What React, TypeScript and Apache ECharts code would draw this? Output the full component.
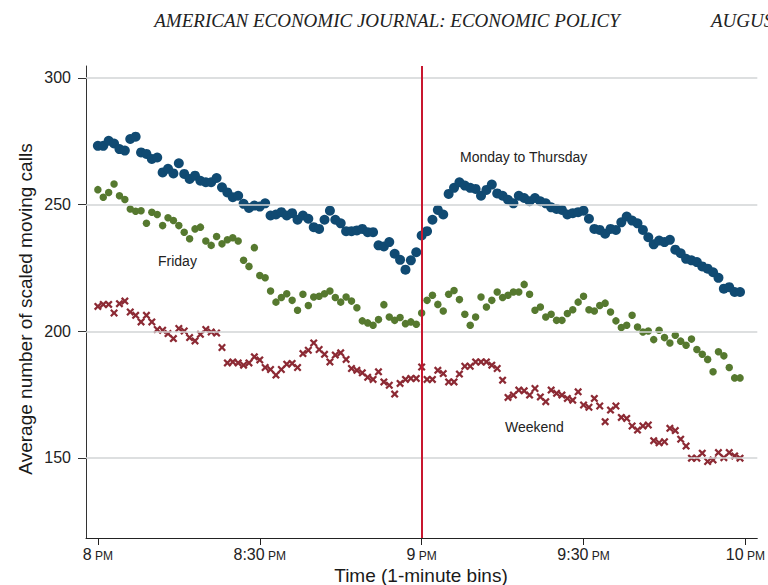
import React, { useEffect, useRef } from "react";
import * as echarts from "echarts";

// minute bins after 8 PM
const minutes: number[] = Array.from({ length: 120 }, (_, i) => i);

const mondayToThursday: number[] = [
  273.2, 273.2, 275.2, 274.1, 271.9, 271.3, 275.9, 276.8, 270.6, 270,
  268, 268.6, 262.7, 264.1, 262.3, 266.3, 262.1, 260.1, 261.4, 259.4,
  258.8, 258.8, 260.5, 256.8, 254.8, 252.9, 253.5, 250.3, 248.7, 249.6,
  249.2, 250.5, 245.7, 246.1, 247, 245.7, 246.6, 244, 245.7, 244.4,
  241.1, 240.4, 244, 247.6, 244, 242.6, 239.5, 239.5, 239.8, 240.4,
  239.1, 239.1, 233.9, 233.5, 235.2, 230.6, 228.2, 224.3, 228, 231.2,
  237.8, 239.5, 244, 247.9, 246.1, 254.2, 256.6, 258.8, 257.5, 256.6,
  256.2, 253.5, 255.8, 257.9, 254.4, 253.5, 251.9, 250.5, 253.5, 252.6,
  251.3, 252.6, 251.3, 250.5, 248.9, 248.3, 247.9, 246.1, 246.6, 247,
  247.6, 244.4, 240.4, 240, 238.5, 240.4, 240, 243, 245.3, 243.7,
  242.6, 240, 237.1, 234.3, 235.8, 235.2, 236.1, 232.2, 230.8, 228.6,
  228, 227.3, 225.6, 224.7, 223.3, 221.1, 216.8, 217.4, 215.5, 215.5,
];

const friday: number[] = [
  255.9, 252.9, 254.8, 258.1, 253.5, 252, 248.3, 247.4, 247.6, 242.6,
  247, 246.1, 241.7, 244.8, 243.7, 241.7, 239.1, 236.5, 240.4, 241.1,
  235.6, 233.9, 237.4, 234.5, 236.1, 236.9, 235.6, 228, 225.6, 233,
  222, 221.1, 215.9, 211.5, 213.3, 214.8, 212.2, 208.3, 214.6, 210.2,
  213.5, 213.8, 214.8, 215.9, 213.3, 211.5, 213.5, 211.9, 209.3, 204.1,
  203.3, 202.4, 204.6, 210.5, 205.6, 204.3, 205.4, 203, 203.7, 202.8,
  207.2, 212.2, 214.2, 210.6, 208, 214.6, 216.1, 212.5, 206.7, 202.4,
  205.6, 213.5, 209.6, 212.2, 215.5, 213.3, 214.2, 215.5, 215.5, 218.5,
  214.6, 208.3, 209.6, 205.6, 206.7, 204.3, 204.3, 207, 208.5, 211.5,
  213.8, 208.5, 208, 210.2, 211.1, 207.6, 204.1, 201.5, 202.4, 206.3,
  201.7, 199.7, 200.1, 196.7, 200.4, 197.5, 195.4, 198.4, 196.1, 194.5,
  196.9, 192.8, 190.9, 188.9, 184, 191.9, 190.3, 185.7, 181.6, 181.6,
];

const weekend: number[] = [
  209.8, 210.6, 210.6, 207.2, 210.9, 211.9, 207.6, 206.3, 203.7, 206.3,
  203.7, 200.7, 200.4, 199.1, 197.1, 201.1, 200.1, 197.5, 196.2, 198.8,
  200.7, 199.7, 199.3, 193.6, 187.5, 187.9, 187.5, 186.6, 187.5, 189.9,
  188.7, 185.7, 184.9, 182.7, 184.9, 187, 187.3, 185.7, 191.2, 192.5,
  195.4, 192.8, 190.9, 187.9, 190.6, 191.5, 188.9, 185.3, 184.6, 183.6,
  181.8, 181, 184, 180, 178.7, 175.2, 179.4, 181, 181.4, 181.4,
  185.9, 181, 181, 184.6, 183.3, 180, 180, 183.1, 186.2, 186.2,
  187.9, 187.9, 187.9, 186.6, 185.3, 180.7, 173.9, 174.8, 176.8, 176.5,
  174.8, 177.4, 174.1, 172.2, 176.8, 175.5, 174.8, 173.5, 172.8, 176.1,
  170.9, 170, 173.5, 170.5, 164.3, 168.9, 170.5, 166, 165.6, 162.6,
  161, 162.6, 163, 156.8, 156, 156.4, 161.7, 160.8, 157.4, 154.7,
  149.9, 149.9, 151.9, 148.6, 149.2, 152.1, 150.1, 152.1, 150.8, 149.9,
];

const xTickValues: number[] = [0, 30, 60, 90, 120];
const xTickLabels: string[] = ["8", "8:30", "9", "9:30", "10"];
const yTickValues: number[] = [150, 200, 250, 300];
const breakMinute = 60;

const SANS = "'Liberation Sans', Arial, Helvetica, sans-serif";
const SERIF = "'Liberation Serif', 'Times New Roman', serif";

const crossPath =
  "path://M2,0 L5,3 L8,0 L10,2 L7,5 L10,8 L8,10 L5,7 L2,10 L0,8 L3,5 L0,2 Z";

export default function App() {
  const ref = useRef<HTMLDivElement>(null);

  useEffect(() => {
    document.body.style.margin = "0";
    if (!ref.current) return;
    const chart = echarts.init(ref.current, undefined, { renderer: "svg" });
    const toPairs = (vals: number[]) => minutes.map((m, i) => [m, vals[i]]);

    chart.setOption({
      animation: false,
      backgroundColor: "#ffffff",
      grid: { left: 86, right: 10, top: 66, bottom: 47 },
      xAxis: {
        type: "value",
        min: -2.2,
        max: 122.2,
        axisLine: { show: true, onZero: false, lineStyle: { color: "#222", width: 1 } },
        axisTick: {
          show: true,
          length: 7,
          customValues: xTickValues,
          lineStyle: { color: "#222", width: 1 },
        },
        axisLabel: {
          customValues: xTickValues,
          margin: 6,
          color: "#222",
          formatter: (v: number) => {
            const idx = xTickValues.indexOf(Math.round(v));
            return `{n|${xTickLabels[idx]}} {s|PM}`;
          },
          rich: {
            n: { fontSize: 16, fontFamily: SANS, color: "#222", lineHeight: 18, verticalAlign: "bottom" },
            s: { fontSize: 12, fontFamily: SANS, color: "#222", lineHeight: 18, verticalAlign: "bottom" },
          },
        },
        splitLine: { show: false },
      },
      yAxis: {
        type: "value",
        min: 118.4,
        max: 304.7,
        axisLine: { show: true, onZero: false, lineStyle: { color: "#333", width: 1 } },
        axisTick: {
          show: true,
          length: 8,
          customValues: yTickValues,
          lineStyle: { color: "#333", width: 1 },
        },
        axisLabel: {
          customValues: yTickValues,
          margin: 15,
          fontSize: 16,
          fontFamily: SANS,
          color: "#222",
        },
        splitLine: { show: false },
      },
      series: [
        {
          type: "line",
          data: [],
          z: 1,
          silent: true,
          markLine: {
            silent: true,
            symbol: ["none", "none"],
            label: { show: false },
            lineStyle: { color: "#d2d4d6", width: 1.5, type: "solid" },
            data: yTickValues.map((v) => ({ yAxis: v })),
          },
        },
        {
          name: "Weekend",
          type: "scatter",
          z: 3,
          symbol: crossPath,
          symbolSize: 8,
          itemStyle: { color: "#8c2a34", opacity: 1 },
          data: toPairs(weekend),
        },
        {
          name: "Friday",
          type: "scatter",
          z: 3,
          symbol: "circle",
          symbolSize: 7.5,
          itemStyle: { color: "#56792f", opacity: 1 },
          data: toPairs(friday),
        },
        {
          name: "Monday to Thursday",
          type: "scatter",
          z: 4,
          symbol: "circle",
          symbolSize: 10,
          itemStyle: { color: "#104a72", opacity: 1 },
          data: toPairs(mondayToThursday),
        },
        {
          type: "line",
          data: [],
          z: 10,
          silent: true,
          markLine: {
            silent: true,
            symbol: ["none", "none"],
            label: { show: false },
            lineStyle: { color: "#c8172f", width: 2, type: "solid" },
            data: [{ xAxis: breakMinute }],
          },
        },
      ],
      graphic: [
        {
          type: "text",
          x: 387,
          y: 20,
          style: {
            text: "AMERICAN ECONOMIC JOURNAL: ECONOMIC POLICY",
            font: `italic 19px ${SERIF}`,
            fill: "#222",
            textAlign: "center",
            textVerticalAlign: "middle",
          },
        },
        {
          type: "text",
          x: 711,
          y: 20,
          style: {
            text: "AUGUST 2019",
            font: `italic 19px ${SERIF}`,
            fill: "#222",
            textAlign: "left",
            textVerticalAlign: "middle",
          },
        },
        {
          type: "text",
          x: 25,
          y: 309,
          rotation: Math.PI / 2,
          style: {
            text: "Average number of scaled moving calls",
            font: `19px ${SANS}`,
            fill: "#1a1a1a",
            textAlign: "center",
            textVerticalAlign: "middle",
          },
        },
        {
          type: "text",
          x: 421,
          y: 575,
          style: {
            text: "Time (1-minute bins)",
            font: `19px ${SANS}`,
            fill: "#1a1a1a",
            textAlign: "center",
            textVerticalAlign: "middle",
          },
        },
        {
          type: "text",
          x: 460,
          y: 157,
          z: 20,
          style: {
            text: "Monday to Thursday",
            font: `14px ${SANS}`,
            fill: "#222",
            textAlign: "left",
            textVerticalAlign: "middle",
          },
        },
        {
          type: "text",
          x: 158,
          y: 261,
          z: 20,
          style: {
            text: "Friday",
            font: `14px ${SANS}`,
            fill: "#222",
            textAlign: "left",
            textVerticalAlign: "middle",
          },
        },
        {
          type: "text",
          x: 505,
          y: 427,
          z: 20,
          style: {
            text: "Weekend",
            font: `14px ${SANS}`,
            fill: "#222",
            textAlign: "left",
            textVerticalAlign: "middle",
          },
        },
      ],
    });

    return () => chart.dispose();
  }, []);

  return (
    <div
      ref={ref}
      style={{ position: "fixed", left: 0, top: 0, width: 768, height: 585, background: "#fff" }}
    />
  );
}
